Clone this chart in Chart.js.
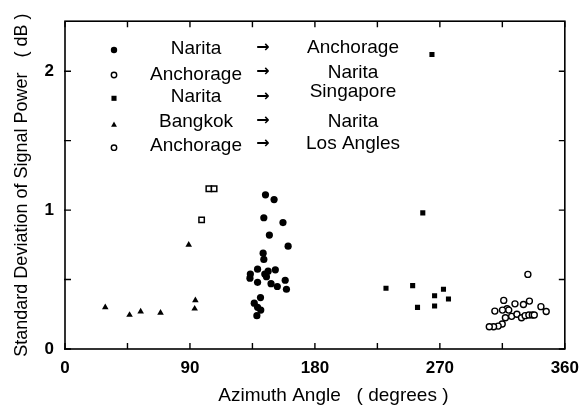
<!DOCTYPE html>
<html>
<head>
<meta charset="utf-8">
<script src="https://cdn.jsdelivr.net/npm/chart.js@4/dist/chart.umd.min.js"></script>
<style>
  html, body { margin: 0; padding: 0; background: #fff; }
  #wrap { width: 588px; height: 412px; }
</style>
</head>
<body>
<div id="wrap"><canvas id="c" width="588" height="412"></canvas></div>
<script>
// ---- data ----
const routesFrom = ['Narita', 'Anchorage', 'Narita', 'Bangkok', 'Anchorage'];
const routesTo   = ['Anchorage', 'Narita', 'Singapore', 'Narita', 'Los Angles'];

const naritaAnchorageAz = [144.4,150.6,143.2,157,147.2,160.7,142.7,143.2,138.7,133.5,133.2,143.9,146.3,151.5,145.1,138.7,148.4,152.9,158.6,159.5,140.8,136.3,138.7,141,138.2];
const naritaAnchorageSd = [1.11,1.076,0.945,0.91,0.82,0.74,0.69,0.645,0.575,0.54,0.51,0.54,0.56,0.57,0.52,0.48,0.47,0.45,0.495,0.43,0.37,0.33,0.30,0.28,0.24];

const anchorageNaritaAz = [333.4,316,309.6,324.1,330.2,334.5,342.8,346.6,318.4,315.1,317.2,321.7,325.5,328.8,331.4,334.1,336.6,338,314.9,312,308.7,305.6,319.6];
const anchorageNaritaSd = [0.537,0.35,0.273,0.325,0.32,0.345,0.305,0.27,0.29,0.28,0.225,0.235,0.25,0.225,0.24,0.245,0.245,0.245,0.18,0.165,0.16,0.16,0.28];

const naritaSingaporeAz = [264.3,257.7,231.2,250.4,253.9,266.2,266.2,272.6,276.2];
const naritaSingaporeSd = [2.12,0.98,0.437,0.456,0.30,0.383,0.31,0.43,0.36];

const bangkokNaritaAz = [29,46.5,54.5,68.8,89.1,93.9,93.4];
const bangkokNaritaSd = [0.30,0.245,0.27,0.26,0.75,0.35,0.29];

const anchorageLAAz = [98.4,103.6,107.4];
const anchorageLASd = [0.93,1.154,1.154];

const xTickValues = [0,45,90,135,180,225,270,315,360];
const xTickLabels = [0,90,180,270,360];
const yTickValues = [0,0.5,1,1.5,2];
const yTickLabels = [0,1,2];

// ---- helpers ----
const FONT = "'Liberation Sans', Arial, Helvetica, sans-serif";
function pts(xs, ys) { return xs.map((x, i) => ({ x: x, y: ys[i] })); }

const styles = [
  { pointStyle: 'circle',   radius: 3.6, bg: '#000', bw: 0 },
  { pointStyle: 'circle',   radius: 3.0, bg: '#fff', bw: 1.4 },
  { pointStyle: 'rect',     radius: 3.6, bg: '#000', bw: 0 },
  { pointStyle: 'triangle', radius: 3.8, bg: '#000', bw: 0 },
  { pointStyle: 'rect',     radius: 3.8, bg: '#fff', bw: 1.5 }
];
const seriesData = [
  pts(naritaAnchorageAz, naritaAnchorageSd),
  pts(anchorageNaritaAz, anchorageNaritaSd),
  pts(naritaSingaporeAz, naritaSingaporeSd),
  pts(bangkokNaritaAz, bangkokNaritaSd),
  pts(anchorageLAAz, anchorageLASd)
];

const datasets = seriesData.map((d, i) => ({
  label: routesFrom[i] + ' → ' + routesTo[i],
  data: d,
  pointStyle: styles[i].pointStyle,
  pointRadius: styles[i].radius,
  pointHoverRadius: styles[i].radius,
  backgroundColor: styles[i].bg,
  borderColor: '#000',
  pointBorderWidth: styles[i].bw,
  borderWidth: styles[i].bw,
  showLine: false
}));

// legend layout (inside plot)
const legMarkX = 114, legLeftX = 196, legArrowX = 263, legRightX = 353;
const legMarkY   = [50, 75, 98.3, 125, 147.7];
const legLeftBL  = [54, 80, 101.7, 126.7, 150.7];
const legRightBL = [52.7, 77.7, 97.3, 127.3, 149];
const legArrowY  = [48.3, 71.7, 96.7, 120.7, 144.3];
const legendMarks = [
  { pointStyle: 'circle',   radius: 3.2, bg: '#000', bw: 0 },
  { pointStyle: 'circle',   radius: 2.7, bg: '#fff', bw: 1.4 },
  { pointStyle: 'rect',     radius: 3.6, bg: '#000', bw: 0 },
  { pointStyle: 'triangle', radius: 3.4, bg: '#000', bw: 0 },
  { pointStyle: 'circle',   radius: 2.7, bg: '#fff', bw: 1.4 }
];

const framePlugin = {
  id: 'frame',
  afterDatasetsDraw(chart) {
    const { ctx, chartArea: a, scales } = chart;
    const x = scales.x, y = scales.y;
    ctx.save();
    ctx.strokeStyle = '#000';
    ctx.lineWidth = 1.6;
    ctx.strokeRect(a.left, a.top, a.right - a.left, a.bottom - a.top);
    ctx.lineWidth = 1.4;
    ctx.beginPath();
    xTickValues.forEach(v => {
      const px = x.getPixelForValue(v);
      ctx.moveTo(px, a.bottom); ctx.lineTo(px, a.bottom - 6);
      ctx.moveTo(px, a.top);    ctx.lineTo(px, a.top + 6);
    });
    yTickValues.forEach(v => {
      const py = y.getPixelForValue(v);
      ctx.moveTo(a.left - 1, py);  ctx.lineTo(a.left + 6, py);
      ctx.moveTo(a.right, py); ctx.lineTo(a.right - 6, py);
    });
    ctx.stroke();

    // legend
    ctx.textAlign = 'center';
    for (let i = 0; i < routesFrom.length; i++) {
      const m = legendMarks[i];
      ctx.fillStyle = m.bg;
      ctx.strokeStyle = '#000';
      ctx.lineWidth = m.bw;
      Chart.helpers.drawPoint(ctx, { pointStyle: m.pointStyle, radius: m.radius, rotation: 0, borderWidth: m.bw }, legMarkX, legMarkY[i]);
      ctx.fillStyle = '#000';
      ctx.font = '19px ' + FONT;
      ctx.textBaseline = 'alphabetic';
      ctx.fillText(routesFrom[i], legLeftX, legLeftBL[i]);
      ctx.fillText(routesTo[i], legRightX, legRightBL[i]);
      ctx.font = "bold 16px 'DejaVu Sans', sans-serif";
      ctx.textBaseline = 'middle';
      ctx.fillText('→', legArrowX, legArrowY[i]);
    }
    ctx.restore();
  }
};

new Chart(document.getElementById('c'), {
  type: 'scatter',
  data: { datasets: datasets },
  options: {
    responsive: false,
    devicePixelRatio: 1,
    animation: false,
    events: [],
    layout: { padding: { top: 17, right: 17, left: 0, bottom: 0 } },
    plugins: { legend: { display: false }, tooltip: { enabled: false } },
    scales: {
      x: {
        type: 'linear', min: 0, max: 360,
        grid: { display: false, drawTicks: false },
        border: { display: false },
        afterFit: s => { s.height = 63; },
        afterBuildTicks: s => { s.ticks = xTickValues.map(v => ({ value: v })); },
        ticks: {
          autoSkip: false, maxRotation: 0, padding: 9, color: '#000',
          font: { family: FONT, size: 17, weight: 'bold' },
          callback: v => (xTickLabels.includes(v) ? String(v) : '')
        },
        title: {
          display: true, text: '       Azimuth Angle   ( degrees )', color: '#000',
          font: { family: FONT, size: 19 }, padding: { top: 0, bottom: 5 }
        }
      },
      y: {
        type: 'linear', min: 0, max: 2.36,
        grid: { display: false, drawTicks: false },
        border: { display: false },
        afterFit: s => { s.width = 65; },
        afterBuildTicks: s => { s.ticks = yTickValues.map(v => ({ value: v })); },
        ticks: {
          autoSkip: false, padding: 11, color: '#000',
          font: { family: FONT, size: 17, weight: 'bold' },
          callback: v => (yTickLabels.includes(v) ? String(v) : '')
        },
        title: {
          display: true, text: 'Standard Deviation of Signal Power   ( dB )', color: '#000',
          font: { family: FONT, size: 18 }, padding: { top: 11, bottom: 0 }
        }
      }
    }
  },
  plugins: [framePlugin]
});
</script>
</body>
</html>
